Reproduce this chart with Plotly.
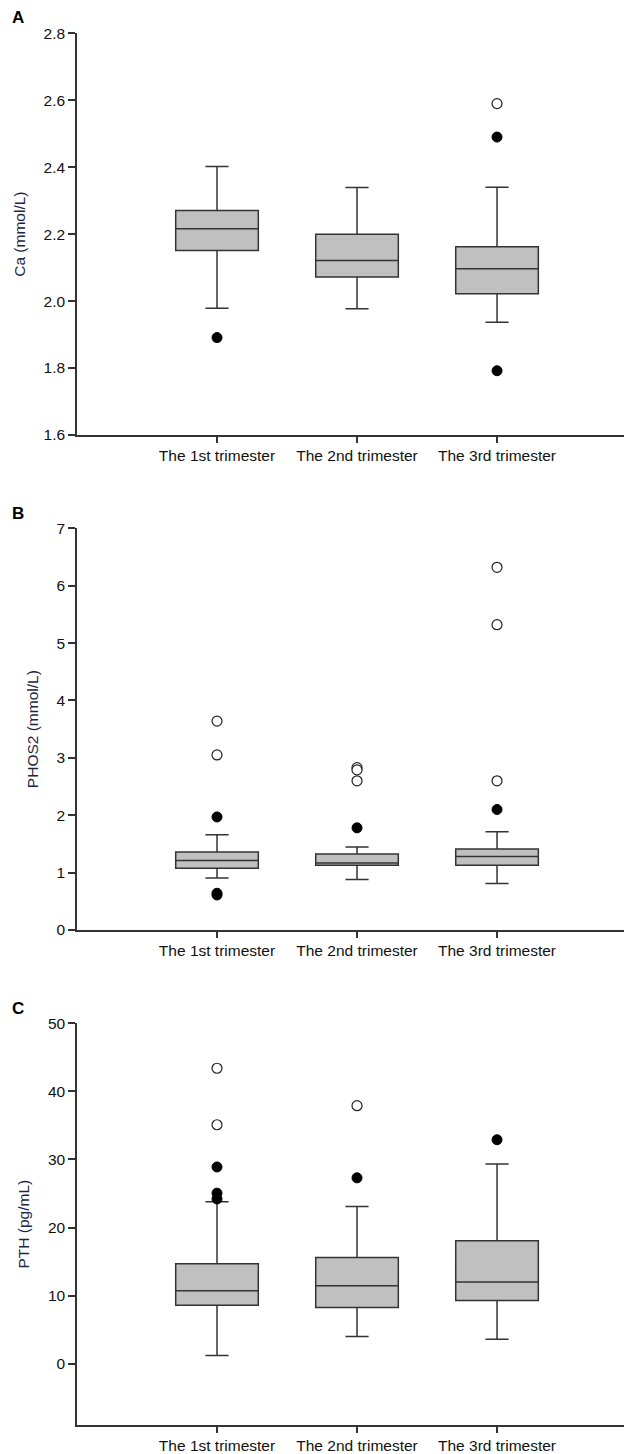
import plotly.graph_objects as go

categories = ["The 1st trimester", "The 2nd trimester", "The 3rd trimester"]

# Panel A: Ca (mmol/L)
ca_q1 = [2.151, 2.072, 2.022]
ca_median = [2.216, 2.121, 2.097]
ca_q3 = [2.271, 2.200, 2.162]
ca_lower = [1.979, 1.977, 1.937]
ca_upper = [2.402, 2.339, 2.340]
ca_filled_x = ["The 1st trimester", "The 3rd trimester", "The 3rd trimester"]
ca_filled_y = [1.891, 2.490, 1.792]
ca_open_x = ["The 3rd trimester"]
ca_open_y = [2.590]

# Panel B: PHOS2 (mmol/L)
ph_q1 = [1.075, 1.13, 1.13]
ph_median = [1.21, 1.167, 1.28]
ph_q3 = [1.36, 1.324, 1.41]
ph_lower = [0.906, 0.88, 0.81]
ph_upper = [1.66, 1.446, 1.71]
ph_filled_x = ["The 1st trimester", "The 1st trimester", "The 1st trimester",
               "The 2nd trimester", "The 3rd trimester"]
ph_filled_y = [1.97, 0.61, 0.64, 1.78, 2.10]
ph_open_x = ["The 1st trimester", "The 1st trimester",
             "The 2nd trimester", "The 2nd trimester", "The 2nd trimester",
             "The 3rd trimester", "The 3rd trimester", "The 3rd trimester"]
ph_open_y = [3.64, 3.05, 2.83, 2.79, 2.60, 6.32, 5.32, 2.60]

# Panel C: PTH (pg/mL)
pth_q1 = [8.6, 8.27, 9.3]
pth_median = [10.7, 11.45, 12.0]
pth_q3 = [14.7, 15.6, 18.05]
pth_lower = [1.2, 4.0, 3.6]
pth_upper = [23.8, 23.1, 29.35]
pth_filled_x = ["The 1st trimester", "The 1st trimester", "The 1st trimester",
                "The 2nd trimester", "The 3rd trimester"]
pth_filled_y = [28.9, 25.05, 24.2, 27.3, 32.9]
pth_open_x = ["The 1st trimester", "The 1st trimester", "The 2nd trimester"]
pth_open_y = [43.4, 35.1, 37.9]

panels = [
    dict(q1=ca_q1, med=ca_median, q3=ca_q3, lo=ca_lower, hi=ca_upper,
         fx=ca_filled_x, fy=ca_filled_y, ox=ca_open_x, oy=ca_open_y,
         title="Ca (mmol/L)", yrange=[1.6, 2.8], dtick=0.2, fmt=".1f",
         letter="A"),
    dict(q1=ph_q1, med=ph_median, q3=ph_q3, lo=ph_lower, hi=ph_upper,
         fx=ph_filled_x, fy=ph_filled_y, ox=ph_open_x, oy=ph_open_y,
         title="PHOS2 (mmol/L)", yrange=[0, 7], dtick=1, fmt="d",
         letter="B"),
    dict(q1=pth_q1, med=pth_median, q3=pth_q3, lo=pth_lower, hi=pth_upper,
         fx=pth_filled_x, fy=pth_filled_y, ox=pth_open_x, oy=pth_open_y,
         title="PTH (pg/mL)", yrange=[-9, 50], dtick=10, fmt="d",
         letter="C", tick0=0),
]

OFF = 8.0  # browser body margin
W = 632.0 - OFF
H = 1454.0 - OFF
# page-pixel extents (top, bottom) of each panel's plot area
px_extents = [(33.3, 435.0), (528.3, 930.0), (1023.3, 1425.0)]
letter_y = [18, 513, 1008]
letter_x = 18
axis_left = 77

fig = go.Figure()
LINE = "#333333"
FONT = "Liberation Sans, Arial, sans-serif"
FS = 15.5

layout = dict(
    width=int(W), height=int(H),
    margin=dict(l=axis_left - OFF, r=0, t=0, b=0, pad=0),
    paper_bgcolor="white", plot_bgcolor="white",
    showlegend=False,
    font=dict(family=FONT, size=FS, color="#111111"),
    annotations=[],
)

for i, p in enumerate(panels):
    n = "" if i == 0 else str(i + 1)
    xa = "x" + n
    ya = "y" + n
    fig.add_trace(go.Box(
        x=categories, q1=p["q1"], median=p["med"], q3=p["q3"],
        lowerfence=p["lo"], upperfence=p["hi"],
        boxpoints=False, width=0.59, whiskerwidth=0.28,
        fillcolor="#c0c0c0", line=dict(color=LINE, width=1.5),
        xaxis=xa, yaxis=ya, hoverinfo="skip",
    ))
    fig.add_trace(go.Scatter(
        x=p["fx"], y=p["fy"], mode="markers",
        marker=dict(size=10, color="black", line=dict(color="black", width=1)),
        xaxis=xa, yaxis=ya,
    ))
    fig.add_trace(go.Scatter(
        x=p["ox"], y=p["oy"], mode="markers",
        marker=dict(size=10, color="white", line=dict(color="#222222", width=1.2)),
        xaxis=xa, yaxis=ya,
    ))
    top, bot = px_extents[i]
    top -= OFF
    bot -= OFF
    dom = [1 - bot / H, 1 - top / H]
    layout["xaxis" + n] = dict(
        domain=[0, 1], anchor=ya, range=[-1.0, 2.964],
        showline=True, linecolor=LINE, linewidth=1.5,
        ticks="outside", ticklen=6, tickwidth=1.5, tickcolor=LINE,
        showgrid=False, zeroline=False,
        tickfont=dict(size=FS, color="#111111", family=FONT),
        categoryorder="array", categoryarray=categories,
        type="category", automargin=False,
    )
    yd = dict(
        domain=dom, anchor=xa, range=p["yrange"],
        showline=True, linecolor=LINE, linewidth=1.5,
        ticks="outside", ticklen=7, tickwidth=1.5, tickcolor=LINE,
        showgrid=False, zeroline=False, dtick=p["dtick"],
        tickformat=p["fmt"],
        tickfont=dict(size=FS, color="#111111", family=FONT),
        title=dict(text=p["title"], standoff=14,
                   font=dict(size=FS, color="#1c2541", family=FONT)),
        automargin=False,
    )
    if "tick0" in p:
        yd["tick0"] = p["tick0"]
    layout["yaxis" + n] = yd
    layout["annotations"].append(dict(
        text="<b>" + p["letter"] + "</b>", xref="paper", yref="paper",
        x=(letter_x - axis_left) / (W - (axis_left - OFF)),
        y=1 - (letter_y[i] - OFF) / H,
        xanchor="center", yanchor="middle", showarrow=False,
        font=dict(size=17, color="black", family=FONT),
    ))

fig.update_layout(**layout)
fig.write_html("out.html")
